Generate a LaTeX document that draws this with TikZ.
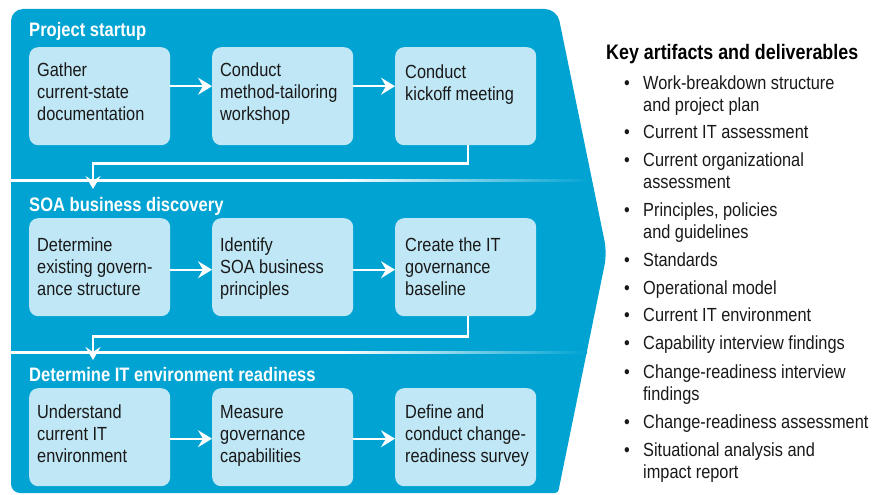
\documentclass[tikz,border=0pt]{standalone}
\usepackage{fontspec}
\setmainfont{Liberation Sans}[FakeStretch=0.86]
\newfontfamily\ttlfont{Liberation Sans}[FakeStretch=0.85]
\usetikzlibrary{arrows.meta}
\definecolor{mainblue}{RGB}{0,163,210}
\definecolor{boxblue}{RGB}{192,231,245}
\definecolor{txtcol}{RGB}{25,25,25}
\tikzset{
  pbox/.style={fill=boxblue, rounded corners=9pt, minimum width=141pt, minimum height=98pt, inner sep=0pt, anchor=north west},
  btxt/.style={anchor=base west, inner sep=0pt, align=left, text=txtcol, font=\fontsize{19}{22}\selectfont},
  ttl/.style={anchor=base west, inner sep=0pt, text=white, font=\ttlfont\bfseries\fontsize{19.5}{22}\selectfont},
  arr/.style={white, line width=2.4pt, -{Stealth[length=14pt, width=17pt, inset=5pt]}},
  conn/.style={white, line width=2.2pt, -{Stealth[length=13pt, width=15pt, inset=5pt]}},
  bul/.style={anchor=base, inner sep=0pt, text=txtcol, font=\fontsize{19}{22}\selectfont},
  itm/.style={anchor=base west, inner sep=0pt, align=left, text=txtcol, font=\fontsize{19}{22}\selectfont},
}
\begin{document}
\begin{tikzpicture}[x=1pt,y=-1pt]
\useasboundingbox (0,0) rectangle (879,495);
% main chevron shape
\fill[mainblue] (11,250) [rounded corners=12pt] -- (11,9) -- (557,9) -- (607,253) [rounded corners=3pt] -- (558,493) [rounded corners=9pt] -- (11,493) -- cycle;
% separators
\fill[white] (11,179) rectangle (340,181.5);
\shade[left color=white, right color=mainblue] (340,179) rectangle (591,181.5);
\fill[white] (11,351) rectangle (340,353.5);
\shade[left color=white, right color=mainblue] (340,351) rectangle (587,353.5);
% titles
\node[ttl] (s1) at (29,37) {Project startup};
\node[ttl] (s2) at (29,211) {SOA business discovery};
\node[ttl] (s3) at (29,381) {Determine IT environment readiness};
% boxes
\node[pbox] (b11) at (29,47) {};
\node[pbox] (b12) at (212,47) {};
\node[pbox] (b13) at (395,47) {};
\node[pbox] (b21) at (29,218) {};
\node[pbox] (b22) at (212,218) {};
\node[pbox] (b23) at (395,218) {};
\node[pbox] (b31) at (29,388) {};
\node[pbox] (b32) at (212,388) {};
\node[pbox] (b33) at (395,388) {};
% box texts (base = baseline of last line)
\node[btxt] (t11) at (37,121) {Gather\\current-state\\documentation};
\node[btxt] (t12) at (220,121) {Conduct\\method-tailoring\\workshop};
\node[btxt] (t13) at (405,100) {Conduct\\kickoff meeting};
\node[btxt] (t21) at (37,295) {Determine\\existing govern-\\ance structure};
\node[btxt] (t22) at (220,295) {Identify\\SOA business\\principles};
\node[btxt] (t23) at (405,295) {Create the IT\\governance\\baseline};
\node[btxt] (t31) at (37,462) {Understand\\current IT\\environment};
\node[btxt] (t32) at (220,462) {Measure\\governance\\capabilities};
\node[btxt] (t33) at (405,462) {Define and\\conduct change-\\readiness survey};
% horizontal arrows
\draw[arr] ([yshift=10pt]b11.east) -- ([yshift=10pt]b12.west);
\draw[arr] ([yshift=10pt]b12.east) -- ([yshift=10pt]b13.west);
\draw[arr] ([yshift=-2.5pt]b21.east) -- ([yshift=-2.5pt]b22.west);
\draw[arr] ([yshift=-2.5pt]b22.east) -- ([yshift=-2.5pt]b23.west);
\draw[arr] ([yshift=-1.5pt]b31.east) -- ([yshift=-1.5pt]b32.west);
\draw[arr] ([yshift=-1.5pt]b32.east) -- ([yshift=-1.5pt]b33.west);
% section connectors
\coordinate (d1) at (93,189);
\coordinate (d2) at (93,360);
\draw[conn] ([xshift=2pt]b13.south) -- ++(0,18) -| (d1);
\draw[conn] ([xshift=2pt]b23.south) -- ++(0,20) -| (d2);
% right list
\node[anchor=base west, inner sep=0pt, text=black, font=\ttlfont\bfseries\fontsize{21}{24}\selectfont] (kh) at (606,60) {Key artifacts and deliverables};
\foreach \y/\l/\t [count=\i] in {89.5/111.5/{Work-breakdown structure\\and project plan},
  138.5/138.5/{Current IT assessment},
  166.5/188.5/{Current organizational\\assessment},
  216.5/238.5/{Principles, policies\\and guidelines},
  266.5/266.5/{Standards},
  294.5/294.5/{Operational model},
  321.5/321.5/{Current IT environment},
  349.5/349.5/{Capability interview findings},
  378.5/400.5/{Change-readiness interview\\findings},
  428.5/428.5/{Change-readiness assessment},
  456.5/478.5/{Situational analysis and\\impact report}}{
  \node[bul] (bu\i) at (627,\y) {•};
  \node[itm] (it\i) at (643,\l) {\t};
}
\end{tikzpicture}
\end{document}
